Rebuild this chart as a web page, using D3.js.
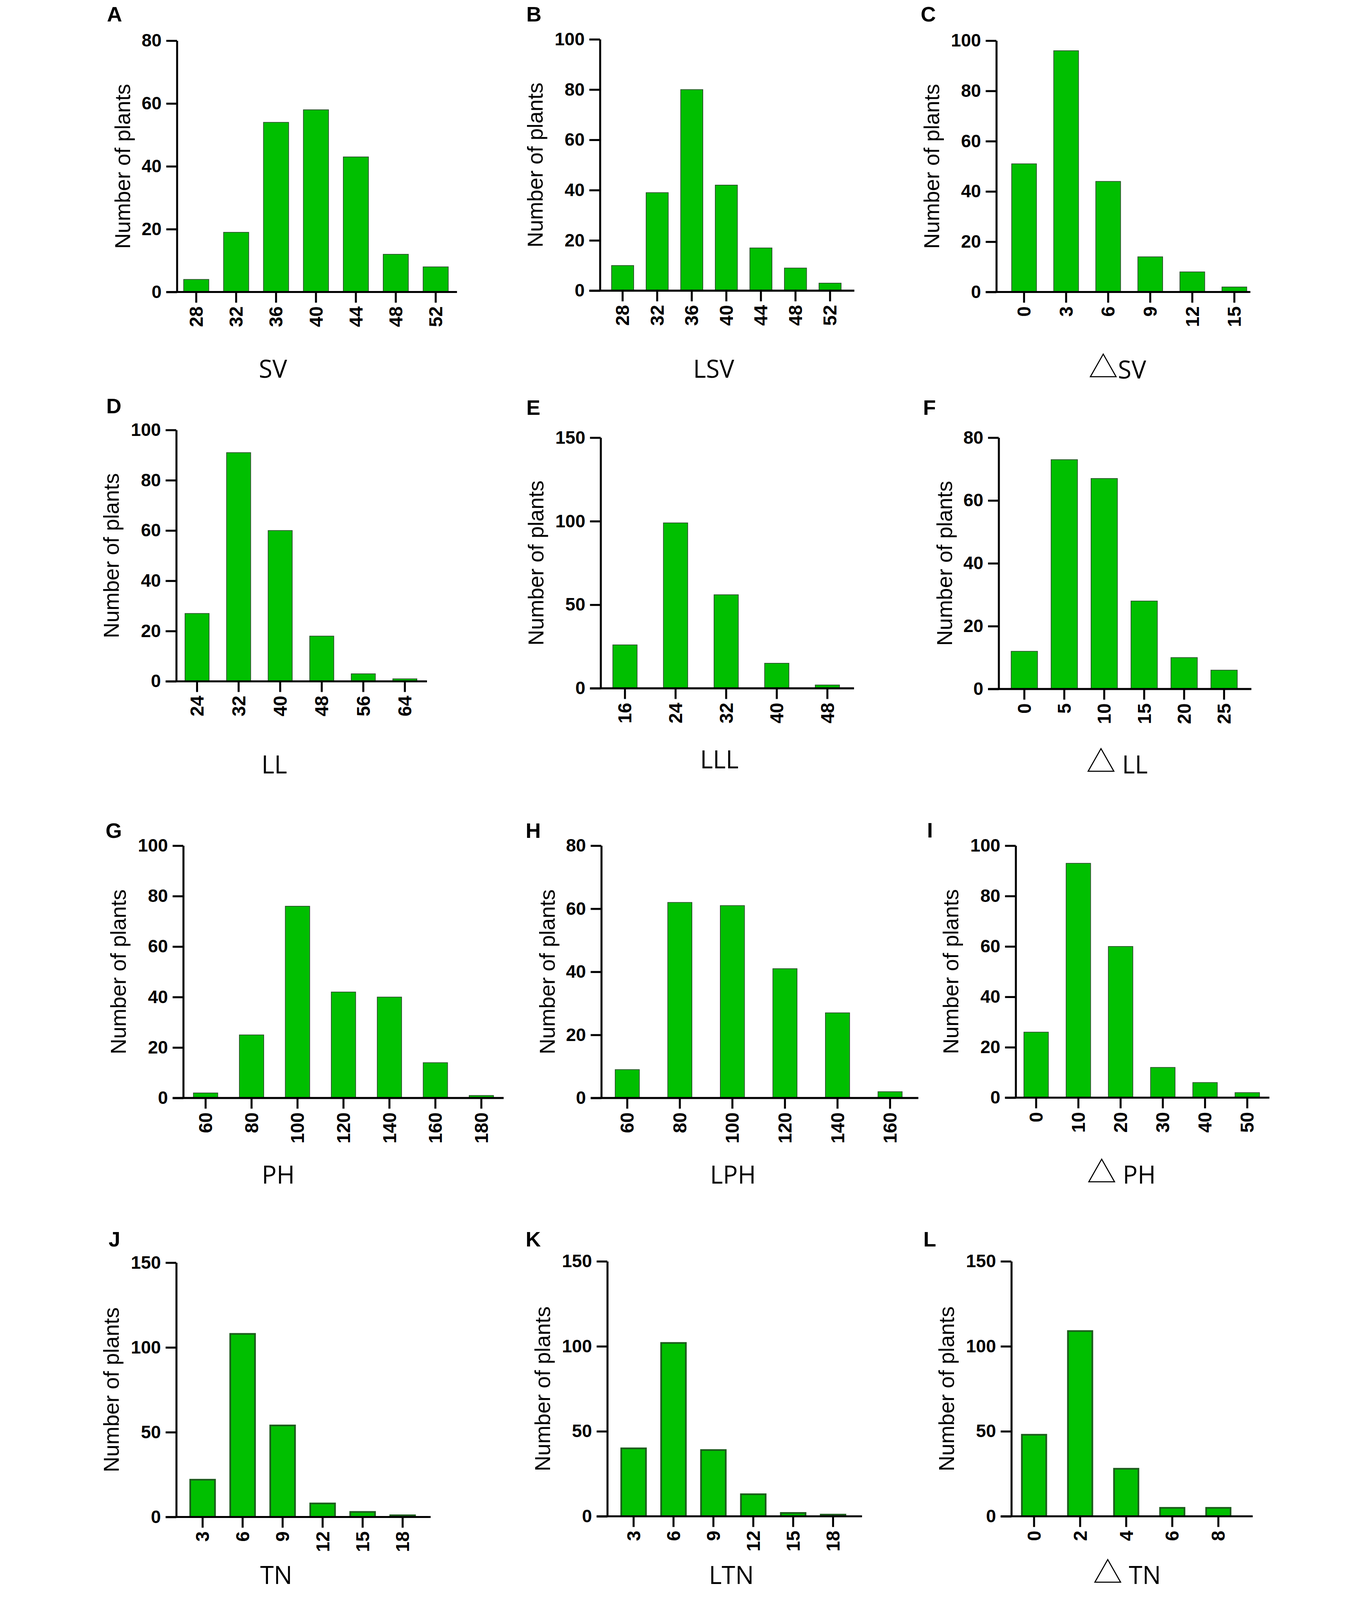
<!DOCTYPE html>
<html>
<head>
<meta charset="utf-8">
<script src="https://cdn.jsdelivr.net/npm/d3@7"></script>
<style>
  html, body { margin: 0; padding: 0; background: #fff; overflow: hidden; }
  svg { display: block; width: 100vw; height: 100vh; }
</style>
</head>
<body>
<svg id="fig" viewBox="0 0 3512 4800" preserveAspectRatio="xMidYMin meet"></svg>
<script>
// bins (x tick labels) and plant counts
const svBins = [28, 32, 36, 40, 44, 48, 52]
const svCounts = [4, 19, 54, 58, 43, 12, 8]
const lsvBins = [28, 32, 36, 40, 44, 48, 52]
const lsvCounts = [10, 39, 80, 42, 17, 9, 3]
const dsvBins = [0, 3, 6, 9, 12, 15]
const dsvCounts = [51, 96, 44, 14, 8, 2]

const llBins = [24, 32, 40, 48, 56, 64]
const llCounts = [27, 91, 60, 18, 3, 1]
const lllBins = [16, 24, 32, 40, 48]
const lllCounts = [26, 99, 56, 15, 2]
const dllBins = [0, 5, 10, 15, 20, 25]
const dllCounts = [12, 73, 67, 28, 10, 6]

const phBins = [60, 80, 100, 120, 140, 160, 180]
const phCounts = [2, 25, 76, 42, 40, 14, 1]
const lphBins = [60, 80, 100, 120, 140, 160]
const lphCounts = [9, 62, 61, 41, 27, 2]
const dphBins = [0, 10, 20, 30, 40, 50]
const dphCounts = [26, 93, 60, 12, 6, 2]

const tnBins = [3, 6, 9, 12, 15, 18]
const tnCounts = [22, 108, 54, 8, 3, 1]
const ltnBins = [3, 6, 9, 12, 15, 18]
const ltnCounts = [40, 102, 39, 13, 2, 1]
const dtnBins = [0, 2, 4, 6, 8]
const dtnCounts = [48, 109, 28, 5, 5]

// y axis tick labels
const yTicks80 = [0, 20, 40, 60, 80]
const yTicks100 = [0, 20, 40, 60, 80, 100]
const yTicks150 = [0, 50, 100, 150]

const panelLetters = ['A', 'B', 'C', 'D', 'E', 'F', 'G', 'H', 'I', 'J', 'K', 'L']
const traitNames = ['SV', 'LSV', '△SV', 'LL', 'LLL', '△ LL', 'PH', 'LPH', '△ PH', 'TN', 'LTN', '△ TN']
const yLabel = 'Number of plants'

const panelBins = [svBins, lsvBins, dsvBins, llBins, lllBins, dllBins, phBins, lphBins, dphBins, tnBins, ltnBins, dtnBins]
const panelCounts = [svCounts, lsvCounts, dsvCounts, llCounts, lllCounts, dllCounts, phCounts, lphCounts, dphCounts, tnCounts, ltnCounts, dtnCounts]
const panelTicks = [yTicks80, yTicks100, yTicks100, yTicks100, yTicks150, yTicks80, yTicks100, yTicks80, yTicks100, yTicks150, yTicks150, yTicks150]

// layout of each panel, in page pixels
// ax: y axis x, right: end of x axis, top/bot: y range, b0/b1: band range,
// pad: inner padding, lx/ly: panel letter, tx/ty: trait title, heavy: thick bar outline
const layout = [
  { ax: 229, right: 1069, top: 122, bot: 876, b0: 227, b1: 1065, pad: 0.37, lx: 19, ly: 64, tx: 517, ty: 1133 },
  { ax: 1498, right: 2261, top: 118, bot: 872, b0: 1514, b1: 2240, pad: 0.36, lx: 1277, ly: 64, tx: 1839, ty: 1133 },
  { ax: 2687, right: 3449, top: 122, bot: 876, b0: 2707, b1: 3464, pad: 0.41, lx: 2460, ly: 64, tx: 3050, ty: 1136 },
  { ax: 227, right: 979, top: 1290, bot: 2044, b0: 227, b1: 975, pad: 0.42, lx: 17, ly: 1240, tx: 521, ty: 2320 },
  { ax: 1500, right: 2260, top: 1313, bot: 2065, b0: 1497, b1: 2256, pad: 0.52, lx: 1277, ly: 1244, tx: 1856, ty: 2305 },
  { ax: 2694, right: 3452, top: 1313, bot: 2067, b0: 2711, b1: 3430, pad: 0.34, lx: 2467, ly: 1244, tx: 3049, ty: 2320 },
  { ax: 248, right: 1209, top: 2537, bot: 3294, b0: 246, b1: 1211, pad: 0.47, lx: 15, ly: 2514, tx: 533, ty: 3551 },
  { ax: 1502, right: 2453, top: 2537, bot: 3294, b0: 1501, b1: 2447, pad: 0.54, lx: 1275, ly: 2514, tx: 1897, ty: 3551 },
  { ax: 2745, right: 3506, top: 2537, bot: 3293, b0: 2743, b1: 3503, pad: 0.42, lx: 2479, ly: 2512, tx: 3062, ty: 3551 },
  { ax: 227, right: 990, top: 3788, bot: 4551, b0: 246, b1: 966, pad: 0.38, lx: 24, ly: 3739, tx: 527, ty: 4752, heavy: true },
  { ax: 1520, right: 2284, top: 3784, bot: 4549, b0: 1539, b1: 2257, pad: 0.38, lx: 1275, ly: 3739, tx: 1892, ty: 4752, heavy: true },
  { ax: 2732, right: 3456, top: 3784, bot: 4549, b0: 2731, b1: 3422, pad: 0.47, lx: 2468, ly: 3739, tx: 3079, ty: 4752, heavy: true }
]

const sans = "'Liberation Sans', Arial, sans-serif"
const titleFont = "'Open Sans', 'DejaVu Sans', sans-serif"
const barFill = '#00bf00'
const tickLen = 32
const axisWidth = 6

const svg = d3.select('#fig')

/**
 * Draws one histogram panel.
 *
 * @param {number} i Index of the panel
 */
function drawPanel (i) {
  const L = layout[i]
  const bins = panelBins[i]
  const counts = panelCounts[i]
  const ticks = panelTicks[i]
  const g = svg.append('g').attr('class', 'panel')

  const x = d3.scaleBand()
    .domain(bins)
    .range([L.b0, L.b1])
    .paddingInner(L.pad)
    .paddingOuter(L.pad / 2)

  const y = d3.scaleLinear()
    .domain([0, d3.max(ticks)])
    .range([L.bot, L.top])

  // bars
  g.append('g')
    .selectAll('rect')
    .data(bins)
    .join('rect')
    .attr('x', d => x(d))
    .attr('width', x.bandwidth())
    .attr('y', (d, j) => y(counts[j]))
    .attr('height', (d, j) => y(0) - y(counts[j]))
    .attr('fill', barFill)
    .attr('stroke', L.heavy ? '#1d5c1d' : '#2a4a2a')
    .attr('stroke-width', L.heavy ? 5 : 2)

  // y axis
  const yAxis = g.append('g')
    .attr('transform', `translate(${L.ax},0)`)
    .call(d3.axisLeft(y).tickValues(ticks).tickSize(tickLen).tickSizeOuter(0).tickPadding(14))
  yAxis.select('.domain').attr('stroke-width', axisWidth).attr('stroke', '#000')
  yAxis.selectAll('.tick line').attr('stroke-width', axisWidth).attr('stroke', '#000')
  yAxis.selectAll('.tick text')
    .attr('font-family', sans)
    .attr('font-weight', 'bold')
    .attr('font-size', 54)
    .attr('fill', '#000')

  // x axis
  const xAxis = g.append('g')
    .attr('transform', `translate(0,${L.bot})`)
    .call(d3.axisBottom(x).tickSize(tickLen).tickSizeOuter(0))
  xAxis.select('.domain').remove()
  xAxis.append('line')
    .attr('x1', L.ax - tickLen)
    .attr('x2', L.right)
    .attr('stroke', '#000')
    .attr('stroke-width', axisWidth)
  xAxis.selectAll('.tick line').attr('stroke-width', axisWidth).attr('stroke', '#000')
  xAxis.selectAll('.tick text')
    .attr('transform', 'rotate(-90)')
    .attr('text-anchor', 'end')
    .attr('x', -(tickLen + 11))
    .attr('y', 0)
    .attr('dy', '0.35em')
    .attr('font-family', sans)
    .attr('font-weight', 'bold')
    .attr('font-size', 56)
    .attr('fill', '#000')

  // y axis title
  const digits = String(d3.max(ticks)).length
  g.append('text')
    .attr('transform', `translate(${L.ax - 140 - 32 * (digits - 2)},${(L.top + L.bot) / 2}) rotate(-90)`)
    .attr('text-anchor', 'middle')
    .attr('font-family', sans)
    .attr('font-size', 65)
    .attr('fill', '#000')
    .text(yLabel)

  // panel letter
  g.append('text')
    .attr('x', L.lx)
    .attr('y', L.ly)
    .attr('font-family', sans)
    .attr('font-weight', 'bold')
    .attr('font-size', 63)
    .attr('fill', '#000')
    .text(panelLetters[i])

  // trait name under the axis, the triangle taken from a CJK font
  const name = traitNames[i]
  const t = g.append('text')
    .attr('x', L.tx)
    .attr('y', L.ty)
    .attr('text-anchor', 'middle')
    .attr('font-family', titleFont)
    .attr('font-size', 74)
    .attr('fill', '#000')
  if (name.startsWith('△')) {
    t.append('tspan')
      .attr('font-family', "'Noto Sans CJK SC', 'DejaVu Sans', sans-serif")
      .attr('font-size', 88)
      .attr('dy', -4)
      .text('△')
    t.append('tspan').attr('dy', 4).text(name.slice(1))
  } else {
    t.text(name)
  }
}

d3.range(layout.length).forEach(drawPanel)
</script>
</body>
</html>
